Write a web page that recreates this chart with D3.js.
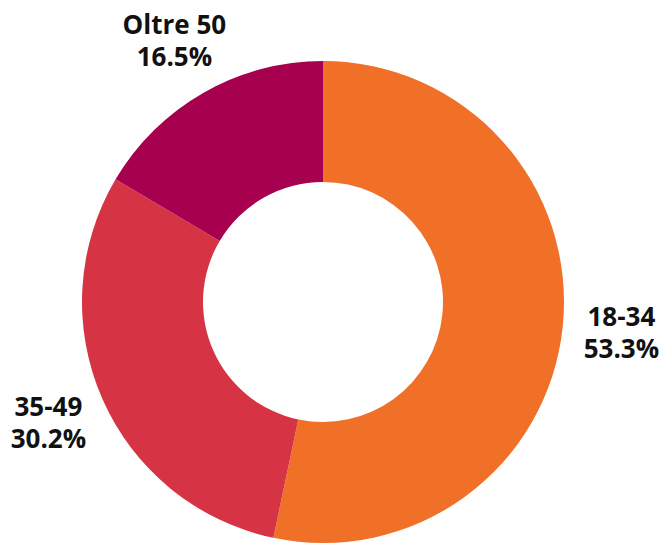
<!DOCTYPE html>
<html><head><meta charset="utf-8">
<script src="https://cdn.jsdelivr.net/npm/d3@7"></script>
<style>body{margin:0;background:#fff}svg{display:block}</style>
</head><body>
<script>
const categories = ["18-34", "35-49", "Oltre 50"];
const values = [53.3, 30.2, 16.5];
const labels = ["53.3%", "30.2%", "16.5%"];
const colors = ["#F07028", "#D63445", "#A6004F"];

const W = 662, H = 543;
const cx = 323, cy = 302, R = 241, r = 120, labelR = 300;

const svg = d3.select("body").append("svg").attr("width", W).attr("height", H);
const g = svg.append("g").attr("transform", `translate(${cx},${cy})`);

const pie = d3.pie().sort(null).value(d => d);
const arcs = pie(values);
const arc = d3.arc().innerRadius(r).outerRadius(R);
const labelArc = d3.arc().innerRadius(labelR).outerRadius(labelR);

g.selectAll("path").data(arcs).join("path")
  .attr("d", arc).attr("fill", (d, i) => colors[i]);

const t = g.selectAll("text").data(arcs).join("text")
  .attr("text-anchor", "middle")
  .attr("font-family", "Open Sans, sans-serif")
  .attr("font-weight", 700)
  .attr("font-size", 26)
  .attr("fill", "#111")
  .attr("transform", d => { const [x, y] = labelArc.centroid(d); return `translate(${x},${y})`; });
t.append("tspan").attr("x", 0).attr("y", -7).text((d, i) => categories[i]);
t.append("tspan").attr("x", 0).attr("y", 25).text((d, i) => labels[i]);
</script>
</body></html>
